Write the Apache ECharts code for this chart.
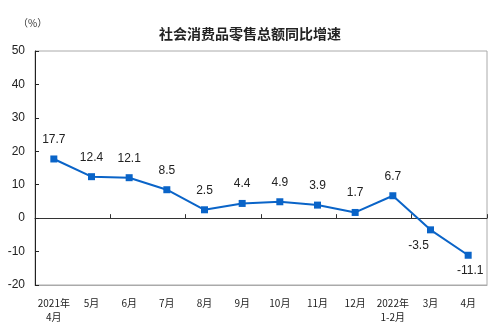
<!DOCTYPE html>
<html><head><meta charset="utf-8">
<script src="https://cdn.jsdelivr.net/npm/echarts@6/dist/echarts.min.js"></script>
<style>html,body{margin:0;padding:0;background:#fff}#c{width:500px;height:333px}</style>
</head><body><div id="c"></div>
<script>
const categories = ['2021年\n4月','5月','6月','7月','8月','9月','10月','11月','12月','2022年\n1-2月','3月','4月'];
const values = [17.7, 12.4, 12.1, 8.5, 2.5, 4.4, 4.9, 3.9, 1.7, 6.7, -3.5, -11.1];
const titleText = '社会消费品零售总额同比增速';
const unitText = '（%）';

const chart = echarts.init(document.getElementById('c'));
const data = values.map((v, i) => i >= 10 ? {value: v, label: {position: 'bottom', offset: i === 10 ? [-12, -4] : [2, -4]}} : v);
chart.setOption({
  animation: false,
  backgroundColor: '#fff',
  title: {text: titleText, left: 'center', top: 22, textStyle: {fontFamily: 'Noto Sans CJK SC', fontSize: 14, fontWeight: 'bold', color: '#222'}},
  graphic: [{type: 'text', left: 18, top: 18, style: {text: unitText, font: '10px "Noto Sans CJK SC"', fill: '#333'}}],
  grid: {left: 35, right: 13, top: 51, bottom: 48, show: true, borderColor: '#aaa', borderWidth: 1},
  xAxis: [{
    type: 'category', data: categories, position: 'bottom', axisLine: {onZero: false, lineStyle: {color: '#aaa'}},
    axisTick: {show: false},
    axisLabel: {color: '#222', fontSize: 10, fontFamily: 'Noto Sans CJK SC', margin: 11, lineHeight: 14, interval: 0}
  }, {
    type: 'category', data: categories, position: 'bottom', axisLine: {onZero: true, lineStyle: {color: '#333'}},
    axisTick: {show: true, inside: true, length: 4, lineStyle: {color: '#333'}},
    axisLabel: {show: false}
  }],
  yAxis: {
    type: 'value', min: -20, max: 50, interval: 10,
    axisLine: {show: true, lineStyle: {color: '#222'}},
    axisTick: {show: true, inside: true, length: 4, lineStyle: {color: '#222'}},
    splitLine: {show: false},
    axisLabel: {color: '#222', fontSize: 12, fontFamily: 'Liberation Sans', margin: 10}
  },
  series: [{
    type: 'line', data: data, xAxisIndex: 0,
    symbol: 'rect', symbolSize: 7,
    lineStyle: {color: '#0a64c8', width: 2},
    itemStyle: {color: '#0a64c8'},
    label: {show: true, position: 'top', distance: 10, color: '#222', fontSize: 12, fontFamily: 'Liberation Sans'}
  }]
});
</script></body></html>
